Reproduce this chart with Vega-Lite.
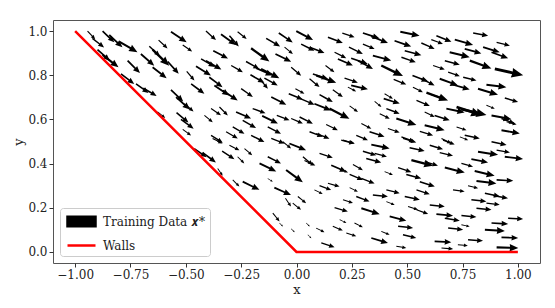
{
  "$schema": "https://vega.github.io/schema/vega-lite/v6.json",
  "width": 487,
  "height": 243,
  "autosize": {"type": "none"},
  "padding": {"left": 53, "top": 20, "right": 15, "bottom": 45},
  "background": "white",
  "config": {
    "view": {"stroke": "#555", "strokeWidth": 1},
    "font": "DejaVu Serif",
    "axis": {
      "grid": false,
      "domain": false,
      "tickColor": "#333",
      "tickSize": 4,
      "labelFont": "DejaVu Serif",
      "labelFontSize": 12,
      "labelColor": "#222",
      "labelPadding": 2,
      "titleFont": "DejaVu Serif",
      "titleFontSize": 13,
      "titleFontWeight": "normal",
      "titleColor": "#222"
    },
    "legend": {
      "title": null,
      "orient": "bottom-left",
      "offset": 7,
      "padding": 4,
      "fillColor": "white",
      "strokeColor": "#cccccc",
      "cornerRadius": 3,
      "labelFont": "DejaVu Serif",
      "labelFontSize": 12,
      "labelColor": "#222",
      "labelOffset": 12,
      "rowPadding": 4,
      "symbolOffset": 8,
      "symbolSize": 256
    }
  },
  "layer": [
    {
      "data": {
        "values": [
          {"x":-0.944,"y":1.0,"a":47,"m":11.3},{"x":-0.922,"y":0.967,"a":38,"m":14.8},{"x":-0.876,"y":1.0,"a":44,"m":16.3},{"x":-0.846,"y":0.982,"a":43,"m":18.1},{"x":-0.801,"y":0.952,"a":30,"m":21.1},{"x":-0.623,"y":0.959,"a":43,"m":12.2},{"x":-0.567,"y":0.997,"a":34,"m":18.9},{"x":-0.514,"y":0.937,"a":35,"m":11.5},{"x":-0.665,"y":0.931,"a":43,"m":14.6},{"x":-0.65,"y":0.916,"a":44,"m":23.1},{"x":-0.703,"y":0.896,"a":41,"m":17.7},{"x":-0.899,"y":0.916,"a":42,"m":16.6},{"x":-0.876,"y":0.892,"a":38,"m":20.2},{"x":-0.763,"y":0.866,"a":45,"m":17.5},{"x":-0.793,"y":0.806,"a":37,"m":16.6},{"x":-0.65,"y":0.836,"a":38,"m":17.8},{"x":-0.582,"y":0.862,"a":48,"m":16.5},{"x":-0.725,"y":0.761,"a":36,"m":15.5},{"x":-0.692,"y":0.742,"a":31,"m":15.5},{"x":-0.567,"y":0.734,"a":44,"m":17},{"x":-0.544,"y":0.701,"a":42,"m":18.7},{"x":-0.507,"y":0.671,"a":40,"m":12.1},{"x":-0.496,"y":0.817,"a":49,"m":11.8},{"x":-0.628,"y":0.634,"a":38,"m":9.8},{"x":-0.542,"y":0.631,"a":40,"m":15.6},{"x":-0.522,"y":0.6,"a":36,"m":15.7},{"x":-0.514,"y":0.555,"a":36,"m":10.3},
          {"x":-0.409,"y":1.0,"a":42,"m":13.5},{"x":-0.341,"y":0.986,"a":36,"m":18.6},{"x":-0.303,"y":0.979,"a":49,"m":14.2},{"x":-0.266,"y":0.997,"a":39,"m":11.6},{"x":-0.376,"y":0.911,"a":28,"m":16.7},{"x":-0.205,"y":0.922,"a":36,"m":22.6},{"x":-0.137,"y":0.967,"a":30,"m":16.1},{"x":-0.08,"y":0.991,"a":34,"m":16.8},{"x":-0.001,"y":1.0,"a":28,"m":19},{"x":0.021,"y":0.941,"a":27,"m":14.9},{"x":-0.095,"y":0.896,"a":26,"m":17.5},{"x":-0.054,"y":0.927,"a":39,"m":10.7},{"x":-0.431,"y":0.874,"a":30,"m":16},{"x":-0.409,"y":0.866,"a":30,"m":17.8},{"x":-0.295,"y":0.844,"a":30,"m":13.5},{"x":-0.228,"y":0.862,"a":29,"m":15.2},{"x":-0.16,"y":0.829,"a":27,"m":20.5},{"x":-0.182,"y":0.832,"a":24,"m":18.2},{"x":-0.024,"y":0.836,"a":40,"m":13},{"x":-0.454,"y":0.841,"a":32,"m":17.6},{"x":-0.476,"y":0.761,"a":37,"m":16.6},{"x":-0.394,"y":0.791,"a":37,"m":16.6},{"x":-0.371,"y":0.754,"a":34,"m":18},{"x":-0.333,"y":0.731,"a":34,"m":18},{"x":-0.25,"y":0.739,"a":35,"m":14.3},{"x":-0.208,"y":0.802,"a":30,"m":16.1},{"x":-0.167,"y":0.784,"a":50,"m":13},{"x":-0.145,"y":0.787,"a":29,"m":15.2},{"x":-0.114,"y":0.701,"a":27,"m":16.9},{"x":-0.035,"y":0.716,"a":22,"m":15.1},{"x":-0.005,"y":0.739,"a":29,"m":10.3},{"x":0.017,"y":0.694,"a":23,"m":15.5},{"x":-0.416,"y":0.618,"a":39,"m":10.7},{"x":-0.386,"y":0.649,"a":34,"m":12},{"x":-0.348,"y":0.656,"a":45,"m":11.8},{"x":-0.273,"y":0.634,"a":24,"m":16.4},{"x":-0.243,"y":0.596,"a":30,"m":15.4},{"x":-0.198,"y":0.649,"a":20,"m":13.7},{"x":-0.155,"y":0.616,"a":26,"m":17.5},{"x":-0.089,"y":0.618,"a":21,"m":13.6},{"x":-0.024,"y":0.604,"a":23,"m":12.7},{"x":0.014,"y":0.611,"a":27,"m":14.9},{"x":-0.386,"y":0.528,"a":32,"m":13.8},{"x":-0.318,"y":0.544,"a":30,"m":13.5},{"x":-0.288,"y":0.566,"a":30,"m":13.5},{"x":-0.205,"y":0.528,"a":27,"m":14.9},{"x":-0.13,"y":0.566,"a":27,"m":14.9},{"x":-0.114,"y":0.514,"a":21,"m":14.2},
          {"x":0.142,"y":0.972,"a":21,"m":16},{"x":0.207,"y":0.991,"a":19,"m":13},{"x":0.3,"y":0.991,"a":18,"m":17.5},{"x":0.338,"y":0.976,"a":22,"m":18},{"x":0.469,"y":0.997,"a":12,"m":19.7},{"x":0.443,"y":0.956,"a":19,"m":17.6},{"x":0.564,"y":0.946,"a":24,"m":14.6},{"x":0.059,"y":0.927,"a":21,"m":16},{"x":0.172,"y":0.904,"a":27,"m":13.1},{"x":0.237,"y":0.927,"a":26,"m":15.5},{"x":0.3,"y":0.941,"a":23,"m":12.7},{"x":0.187,"y":0.874,"a":24,"m":16.4},{"x":0.247,"y":0.877,"a":19,"m":17.6},{"x":0.278,"y":0.866,"a":29,"m":17.1},{"x":0.345,"y":0.889,"a":15,"m":19},{"x":0.383,"y":0.844,"a":26,"m":24.2},{"x":0.474,"y":0.881,"a":19,"m":15.2},{"x":0.489,"y":0.911,"a":15,"m":17.2},{"x":0.131,"y":0.844,"a":37,"m":11.2},{"x":0.074,"y":0.806,"a":18,"m":15.8},{"x":0.089,"y":0.799,"a":20,"m":21.3},{"x":0.059,"y":0.784,"a":40,"m":13},{"x":0.217,"y":0.787,"a":19,"m":14.1},{"x":0.247,"y":0.754,"a":13,"m":17.2},{"x":0.232,"y":0.746,"a":27,"m":9.3},{"x":0.439,"y":0.781,"a":22,"m":13.6},{"x":0.524,"y":0.799,"a":21,"m":16.8},{"x":0.526,"y":0.746,"a":27,"m":11.2},{"x":0.564,"y":0.784,"a":27,"m":14.9},{"x":0.398,"y":0.716,"a":31,"m":9.7},{"x":0.394,"y":0.694,"a":17,"m":16.8},{"x":0.104,"y":0.712,"a":29,"m":15.2},{"x":0.164,"y":0.734,"a":36,"m":12.4},{"x":0.081,"y":0.671,"a":22,"m":18},{"x":0.149,"y":0.649,"a":27,"m":22.4},{"x":0.24,"y":0.661,"a":36,"m":10.3},{"x":0.353,"y":0.682,"a":40,"m":8.8},{"x":0.376,"y":0.626,"a":27,"m":11.2},{"x":0.406,"y":0.649,"a":21,"m":14.2},{"x":0.451,"y":0.604,"a":18,"m":21.1},{"x":0.542,"y":0.686,"a":23,"m":14.5},{"x":0.579,"y":0.634,"a":27,"m":11.2},{"x":0.134,"y":0.577,"a":26,"m":13},{"x":0.293,"y":0.581,"a":27,"m":11.2},{"x":0.33,"y":0.544,"a":18,"m":15.8},{"x":0.413,"y":0.559,"a":19,"m":12.4},{"x":0.059,"y":0.544,"a":21,"m":14.2},{"x":0.089,"y":0.536,"a":21,"m":14.2},{"x":0.21,"y":0.506,"a":16,"m":12.2},{"x":0.27,"y":0.528,"a":23,"m":12.7},{"x":0.474,"y":0.521,"a":21,"m":14.2},{"x":0.557,"y":0.546,"a":17,"m":13.9},
          {"x":0.632,"y":0.979,"a":22,"m":16.2},{"x":0.609,"y":0.961,"a":20,"m":12.4},{"x":0.715,"y":0.961,"a":16,"m":19.1},{"x":0.798,"y":0.991,"a":10,"m":15.2},{"x":0.843,"y":0.927,"a":17,"m":17.4},{"x":0.904,"y":0.949,"a":14,"m":13.7},{"x":0.76,"y":0.919,"a":15,"m":17.2},{"x":0.692,"y":0.904,"a":14,"m":20.6},{"x":0.881,"y":0.904,"a":20,"m":17.7},{"x":0.67,"y":0.866,"a":15,"m":15.5},{"x":0.783,"y":0.866,"a":20,"m":23},{"x":0.896,"y":0.829,"a":13,"m":29.1},{"x":0.617,"y":0.844,"a":19,"m":12.4},{"x":0.685,"y":0.814,"a":19,"m":12.4},{"x":0.753,"y":0.791,"a":14,"m":13.7},{"x":0.647,"y":0.784,"a":20,"m":19.5},{"x":0.707,"y":0.757,"a":16,"m":17.3},{"x":0.82,"y":0.739,"a":17,"m":20.9},{"x":0.858,"y":0.757,"a":7,"m":20.1},{"x":0.941,"y":0.697,"a":17,"m":13.9},{"x":0.587,"y":0.721,"a":20,"m":23},{"x":0.609,"y":0.712,"a":17,"m":13.9},{"x":0.723,"y":0.656,"a":18,"m":26.3},{"x":0.745,"y":0.646,"a":13,"m":25.7},{"x":0.677,"y":0.649,"a":12,"m":18.7},{"x":0.858,"y":0.664,"a":22,"m":9},{"x":0.881,"y":0.618,"a":11,"m":20.4},{"x":0.926,"y":0.604,"a":21,"m":14.2},{"x":0.949,"y":0.589,"a":15,"m":10.4},{"x":0.624,"y":0.618,"a":18,"m":15.8},{"x":0.579,"y":0.574,"a":14,"m":20.6},{"x":0.723,"y":0.566,"a":18,"m":10.5},{"x":0.76,"y":0.528,"a":12,"m":15.4},{"x":0.738,"y":0.521,"a":22,"m":9},{"x":0.926,"y":0.551,"a":10,"m":18.6},{"x":0.655,"y":0.514,"a":27,"m":11.2},
          {"x":-0.462,"y":0.468,"a":35,"m":15},{"x":-0.424,"y":0.45,"a":37,"m":16.6},{"x":-0.356,"y":0.378,"a":56,"m":8.9},{"x":-0.379,"y":0.514,"a":27,"m":11.2},{"x":-0.336,"y":0.456,"a":33,"m":14.7},{"x":-0.303,"y":0.483,"a":27,"m":11.2},{"x":-0.266,"y":0.431,"a":45,"m":9.4},{"x":-0.235,"y":0.468,"a":41,"m":10.2},{"x":-0.167,"y":0.401,"a":26,"m":18.6},{"x":-0.13,"y":0.431,"a":27,"m":14.9},{"x":-0.062,"y":0.499,"a":39,"m":10.7},{"x":-0.032,"y":0.491,"a":22,"m":18},{"x":0.029,"y":0.431,"a":40,"m":13},{"x":-0.288,"y":0.326,"a":45,"m":9.4},{"x":-0.243,"y":0.318,"a":26,"m":18.6},{"x":-0.13,"y":0.333,"a":33,"m":6},{"x":-0.047,"y":0.371,"a":36,"m":20.7},{"x":-0.1,"y":0.291,"a":24,"m":18.2},{"x":-0.05,"y":0.243,"a":56,"m":10},{"x":-0.017,"y":0.221,"a":39,"m":10.7},{"x":0.006,"y":0.251,"a":39,"m":10.7},{"x":-0.107,"y":0.176,"a":51,"m":10.7},{"x":-0.077,"y":0.131,"a":45,"m":5},{"x":-0.024,"y":0.105,"a":45,"m":5},{"x":0.044,"y":0.131,"a":45,"m":5},{"x":0.051,"y":0.078,"a":45,"m":5},
          {"x":0.202,"y":0.506,"a":14,"m":13.7},{"x":0.338,"y":0.486,"a":12,"m":18.7},{"x":0.3,"y":0.456,"a":17,"m":13.9},{"x":0.353,"y":0.446,"a":15,"m":12.7},{"x":0.315,"y":0.423,"a":15,"m":15.5},{"x":0.481,"y":0.514,"a":17,"m":13.9},{"x":0.511,"y":0.472,"a":12,"m":15.4},{"x":0.519,"y":0.416,"a":15,"m":22.4},{"x":0.104,"y":0.446,"a":18,"m":14},{"x":0.036,"y":0.414,"a":25,"m":12},{"x":0.157,"y":0.393,"a":24,"m":16.4},{"x":0.195,"y":0.375,"a":22,"m":9},{"x":0.255,"y":0.396,"a":30,"m":11.5},{"x":0.24,"y":0.351,"a":23,"m":14.5},{"x":0.293,"y":0.333,"a":21,"m":14.2},{"x":0.398,"y":0.364,"a":22,"m":9},{"x":0.459,"y":0.382,"a":19,"m":14.1},{"x":0.496,"y":0.351,"a":15,"m":15.5},{"x":0.557,"y":0.318,"a":18,"m":15.8},{"x":0.104,"y":0.3,"a":20,"m":12.4},{"x":0.142,"y":0.311,"a":16,"m":12.1},{"x":0.081,"y":0.281,"a":26,"m":9.2},{"x":0.24,"y":0.291,"a":26,"m":9.2},{"x":0.27,"y":0.251,"a":21,"m":14.2},{"x":0.345,"y":0.258,"a":6,"m":15.1},{"x":0.406,"y":0.281,"a":14,"m":13.7},{"x":0.489,"y":0.251,"a":12,"m":15.4},{"x":0.542,"y":0.281,"a":18,"m":14},{"x":0.21,"y":0.236,"a":18,"m":10.5},{"x":0.172,"y":0.201,"a":17,"m":13.9},{"x":0.293,"y":0.198,"a":18,"m":19.3},{"x":0.406,"y":0.228,"a":22,"m":9},{"x":0.504,"y":0.206,"a":18,"m":10.5},{"x":0.542,"y":0.191,"a":20,"m":12.4},{"x":0.195,"y":0.146,"a":26,"m":7.5},{"x":0.262,"y":0.131,"a":27,"m":9.4},{"x":0.421,"y":0.161,"a":15,"m":17.2},{"x":0.459,"y":0.116,"a":6,"m":15.1},{"x":0.089,"y":0.108,"a":26,"m":9.2},{"x":0.164,"y":0.116,"a":23,"m":10.9},{"x":0.225,"y":0.086,"a":18,"m":10.5},{"x":0.338,"y":0.063,"a":17,"m":17.4},{"x":0.383,"y":0.093,"a":22,"m":9},{"x":0.481,"y":0.078,"a":14,"m":13.7},{"x":0.112,"y":0.041,"a":18,"m":14},{"x":0.451,"y":0.026,"a":10,"m":10.1},
          {"x":0.662,"y":0.506,"a":20,"m":12.4},{"x":0.602,"y":0.483,"a":17,"m":13.9},{"x":0.647,"y":0.45,"a":14,"m":13.7},{"x":0.881,"y":0.499,"a":12,"m":15.4},{"x":0.904,"y":0.461,"a":10,"m":13.5},{"x":0.82,"y":0.454,"a":9,"m":20.3},{"x":0.941,"y":0.431,"a":7,"m":18.4},{"x":0.79,"y":0.42,"a":11,"m":17},{"x":0.579,"y":0.409,"a":17,"m":13.9},{"x":0.67,"y":0.382,"a":14,"m":20.6},{"x":0.745,"y":0.401,"a":16,"m":12.1},{"x":0.805,"y":0.366,"a":13,"m":20.5},{"x":0.813,"y":0.321,"a":7,"m":20.1},{"x":0.904,"y":0.326,"a":3,"m":16.7},{"x":0.707,"y":0.281,"a":8,"m":11.8},{"x":0.775,"y":0.3,"a":15,"m":10.4},{"x":0.851,"y":0.266,"a":12,"m":15.4},{"x":0.888,"y":0.255,"a":10,"m":15.2},{"x":0.602,"y":0.213,"a":6,"m":15.1},{"x":0.79,"y":0.236,"a":6,"m":15.1},{"x":0.813,"y":0.198,"a":6,"m":15.1},{"x":0.858,"y":0.221,"a":7,"m":13.4},{"x":0.632,"y":0.171,"a":5,"m":16.7},{"x":0.67,"y":0.153,"a":10,"m":15.2},{"x":0.745,"y":0.165,"a":6,"m":15.1},{"x":0.956,"y":0.153,"a":3,"m":15},{"x":0.881,"y":0.131,"a":3,"m":16.7},{"x":0.685,"y":0.108,"a":6,"m":15.1},{"x":0.745,"y":0.123,"a":12,"m":8.5},{"x":0.851,"y":0.1,"a":3,"m":20},{"x":0.926,"y":0.066,"a":2,"m":16.7},{"x":0.624,"y":0.048,"a":3,"m":16.7},{"x":0.729,"y":0.033,"a":6,"m":10},{"x":0.775,"y":0.055,"a":4,"m":15},{"x":0.655,"y":0.018,"a":5,"m":11.7},{"x":0.904,"y":0.021,"a":2,"m":21.7},{"x":0.602,"y":0.003,"a":25,"m":4}
        ]
      },
      "mark": {
        "type": "point",
        "shape": "M0,-0.05L0.62,-0.05L0.6,-0.17L1,0L0.6,0.17L0.62,0.05L0,0.05Z",
        "filled": true,
        "opacity": 1,
        "strokeWidth": 0,
        "clip": true
      },
      "encoding": {
        "x": {
          "field": "x", "type": "quantitative",
          "scale": {"domain": [-1.1, 1.1], "nice": false, "zero": false},
          "axis": {"values": [-1, -0.75, -0.5, -0.25, 0, 0.25, 0.5, 0.75, 1], "format": ".2f", "title": "x", "titlePadding": 3}
        },
        "y": {
          "field": "y", "type": "quantitative",
          "scale": {"domain": [-0.05, 1.05], "nice": false, "zero": false},
          "axis": {"values": [0, 0.2, 0.4, 0.6, 0.8, 1.0], "format": ".1f", "title": "y", "titlePadding": 2}
        },
        "angle": {"field": "a", "type": "quantitative", "scale": null},
        "size": {"field": "m", "type": "quantitative", "scale": {"type": "pow", "exponent": 2, "domain": [0, 25], "range": [0, 2500]}, "legend": null},
        "color": {
          "datum": "Training Data 𝒙*",
          "type": "nominal",
          "scale": {"domain": ["Training Data 𝒙*", "Walls"], "range": ["black", "red"]},
          "legend": {
            "encode": {
              "symbols": {
                "update": {
                  "shape": {"signal": "datum.value === 'Walls' ? 'M-1.75,0H1.75' : 'M-1.75,-0.6H1.75V0.6H-1.75Z'"},
                  "fill": {"signal": "datum.value === 'Walls' ? 'transparent' : 'black'"},
                  "stroke": {"signal": "datum.value === 'Walls' ? 'red' : 'transparent'"},
                  "strokeWidth": {"value": 2.5},
                  "opacity": {"value": 1}
                }
              }
            }
          }
        }
      }
    },
    {
      "data": {"values": [{"x": -1, "y": 1}, {"x": 0, "y": 0}, {"x": 1, "y": 0}]},
      "mark": {"type": "line", "strokeWidth": 2.5},
      "encoding": {
        "x": {"field": "x", "type": "quantitative"},
        "y": {"field": "y", "type": "quantitative"},
        "color": {
          "datum": "Walls",
          "type": "nominal",
          "legend": {
            "encode": {
              "symbols": {
                "update": {
                  "shape": {"signal": "datum.value === 'Walls' ? 'M-1.75,0H1.75' : 'M-1.75,-0.6H1.75V0.6H-1.75Z'"},
                  "fill": {"signal": "datum.value === 'Walls' ? 'transparent' : 'black'"},
                  "stroke": {"signal": "datum.value === 'Walls' ? 'red' : 'transparent'"},
                  "strokeWidth": {"value": 2.5},
                  "opacity": {"value": 1}
                }
              }
            }
          }
        }
      }
    }
  ]
}
